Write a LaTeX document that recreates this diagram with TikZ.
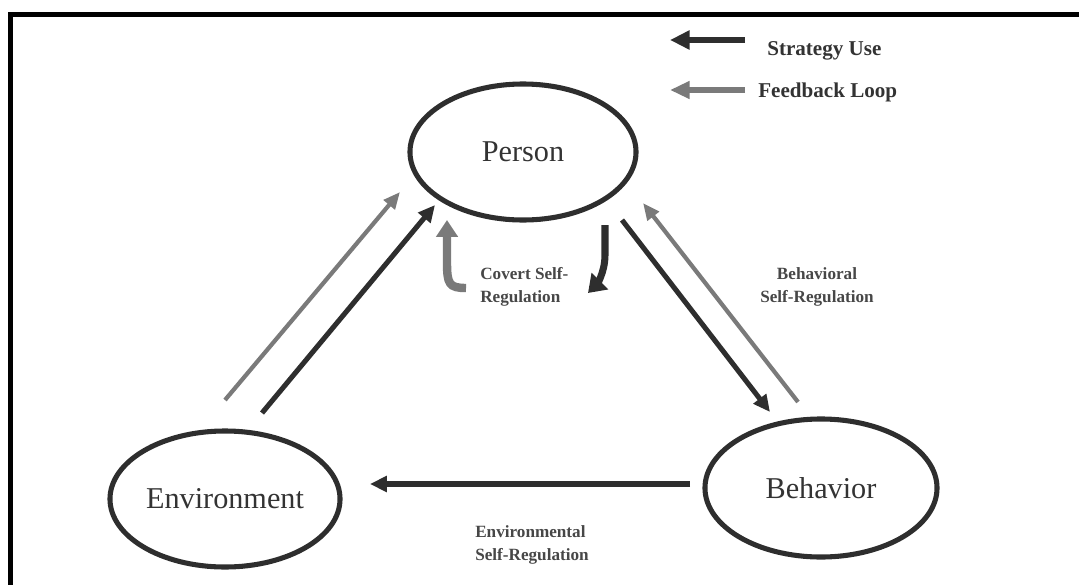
\documentclass[tikz,border=0pt]{standalone}
\usepackage{fontspec}
\setmainfont{Liberation Serif}
\usetikzlibrary{shapes.geometric,arrows.meta}
\definecolor{dk}{HTML}{2E2E2E}
\definecolor{gy}{HTML}{7A7A7A}
\definecolor{tx}{HTML}{333333}
\begin{document}
\begin{tikzpicture}[x=0.025cm, y=-0.025cm]
        \tikzstyle{every node} = [text=tx, inner sep=0pt]
        \tikzstyle{circ} = [draw=dk, ellipse, line width=3.6pt, minimum height=3.4cm, font=\fontsize{21.5}{24}\selectfont]
        \tikzstyle{su} = [dk, line width=3.6pt, -{Triangle[length=12pt, width=11pt]}]
        \tikzstyle{fb} = [gy, line width=3pt, -{Triangle[length=12pt, width=10pt]}]
        \tikzstyle{lbl} = [font=\fontsize{12.2}{16.4}\selectfont\bfseries, text=tx!90]
        \useasboundingbox (0,0) rectangle (1079,585);
        \draw[line width=3.6pt] (10.5,585) -- (10.5,14.7) -- (1079,14.7);

        \node[circ, minimum width=5.65cm](p) at (523,152){Person};
        \node[circ, minimum width=5.75cm](e) at (225,499){Environment};
        \node[circ, minimum width=5.8cm, minimum height=3.45cm](b) at (821,488){Behavior};

        % arrow ends
        \coordinate (e1) at (225,400); \coordinate (p1) at (400,192);
        \coordinate (e2) at (262,413); \coordinate (p2) at (435,205);
        \coordinate (p3) at (622,220); \coordinate (b1) at (770,412);
        \coordinate (b2) at (798,402); \coordinate (p4) at (643,203);
        \coordinate (b3) at (690,484); \coordinate (e3) at (370,484);

        \draw[fb] (e1) -- (p1);
        \draw[su] (e2) -- (p2);
        \draw[su] (p3) -- (b1);
        \draw[fb] (b2) -- (p4);
        \draw[su] (b3) -- (e3);

        % covert loops
        \coordinate (c1) at (466,288); \coordinate (c2) at (447,220);
        \coordinate (c3) at (605,225); \coordinate (c4) at (588,293);
        \draw[fb, line width=6pt, -{Triangle[length=12pt, width=15pt]}] (c1) .. controls +(-17,0) and +(0,22) .. (447,262) -- (c2);
        \draw[su, line width=5pt, -{Triangle[length=12pt, width=16pt]}] (c3) -- (605,255) .. controls +(0,18) and +(8,-8) .. (c4);

        \node[lbl, anchor=north west, align=left](cov) at (480,267){Covert Self-\\Regulation};
        \node[lbl, anchor=north, align=center](beh) at (817,267){Behavioral\\Self-Regulation};
        \node[lbl, anchor=north west, align=left](env) at (475,525){Environmental\\Self-Regulation};

        % legend
        \coordinate (l1) at (745,40); \coordinate (l2) at (670,40);
        \coordinate (l3) at (745,90); \coordinate (l4) at (670,90);
        \draw[su, line width=4.2pt, -{Triangle[length=14pt, width=13pt]}] (l1) -- (l2);
        \draw[fb, line width=3.8pt, -{Triangle[length=14pt, width=12pt]}] (l3) -- (l4);
        \node[anchor=base west, font=\fontsize{15}{18}\selectfont\bfseries](use) at (767,55){Strategy Use};
        \node[anchor=base west, font=\fontsize{15}{18}\selectfont\bfseries](loop) at (758,97){Feedback Loop};
    \end{tikzpicture}
\end{document}
